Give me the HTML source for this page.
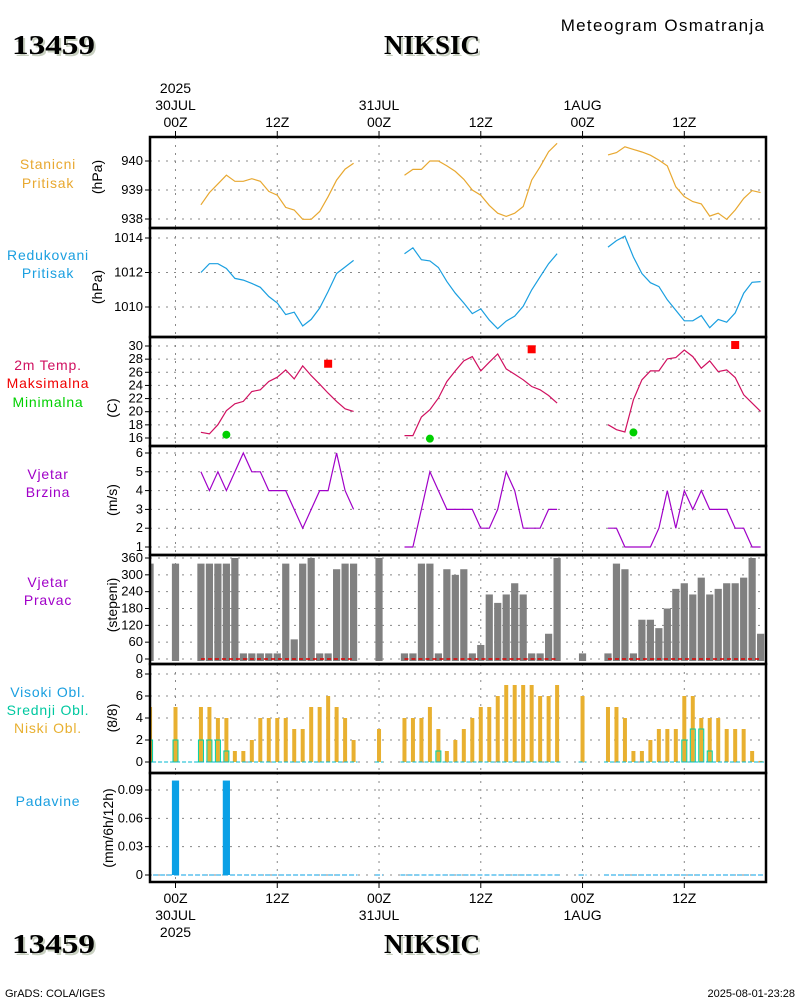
<!DOCTYPE html>
<html><head><meta charset="utf-8">
<style>
body{margin:0;background:#fff;}
svg{display:block;font-family:"Liberation Sans",sans-serif;}
.t{font-size:13px;fill:#000;}
.tl{font-size:13px;text-anchor:end;fill:#000;}
.lab{font-size:14px;text-anchor:middle;}
.big{font-family:"Liberation Serif",serif;font-weight:bold;font-size:27px;}
</style></head><body>
<svg id="c" width="800" height="1000" viewBox="0 0 800 1000">
<text x="663" y="31" font-size="17" text-anchor="middle" letter-spacing="1.3">Meteogram Osmatranja</text>
<g><text x="14" y="56" class="big" fill="#c8d0c0" textLength="83" lengthAdjust="spacingAndGlyphs">13459</text><text x="12" y="54" class="big" textLength="83" lengthAdjust="spacingAndGlyphs">13459</text></g>
<g><text x="434" y="56" class="big" text-anchor="middle" fill="#c8d0c0">NIKSIC</text><text x="432" y="54" class="big" text-anchor="middle">NIKSIC</text></g>
<g><text x="14" y="955" class="big" fill="#c8d0c0" textLength="83" lengthAdjust="spacingAndGlyphs">13459</text><text x="12" y="953" class="big" textLength="83" lengthAdjust="spacingAndGlyphs">13459</text></g>
<g><text x="434" y="955" class="big" text-anchor="middle" fill="#c8d0c0">NIKSIC</text><text x="432" y="953" class="big" text-anchor="middle">NIKSIC</text></g>
<text x="5" y="997" font-size="11">GrADS: COLA/IGES</text>
<text x="795" y="997" font-size="11" text-anchor="end">2025-08-01-23:28</text>
</svg>
<script>
const segStart=[3,27,51];
const stationP=[[938.49,938.91,939.21,939.51,939.30,939.30,939.39,939.30,938.95,938.82,938.40,938.31,937.99,937.99,938.26,938.77,939.34,939.72,939.92],
[939.51,939.71,939.71,940.0,940.0,939.83,939.64,939.37,939.0,938.82,938.47,938.2,938.09,938.2,938.43,939.34,939.8,940.32,940.61],
[940.21,940.29,940.49,940.40,940.31,940.2,940.03,939.83,939.11,938.77,938.6,938.52,938.1,938.2,937.99,938.31,938.71,938.98,938.91]];
const redP=[[1012.0,1012.51,1012.51,1012.23,1011.66,1011.56,1011.37,1011.14,1010.61,1010.23,1009.56,1009.7,1008.9,1009.28,1009.94,1010.9,1011.94,1012.32,1012.7],
[1013.09,1013.43,1012.74,1012.67,1012.29,1011.47,1010.8,1010.23,1009.62,1009.89,1009.24,1008.74,1009.18,1009.47,1010.04,1010.99,1011.75,1012.51,1013.09],
[1013.47,1013.85,1014.11,1012.9,1011.94,1011.41,1011.18,1010.42,1009.81,1009.2,1009.2,1009.5,1008.8,1009.28,1009.12,1009.66,1010.8,1011.43,1011.47]];
const temp=[[16.87,16.62,18.03,20.15,21.21,21.57,23.08,23.33,24.6,25.25,26.36,25.0,26.97,25.5,24.19,22.83,21.57,20.45,20.05],
[16.36,16.36,19.19,20.3,22.07,24.6,26.21,27.73,28.38,26.21,27.53,28.79,26.52,25.71,24.85,23.84,23.33,22.47,21.31],
[18.03,17.27,16.92,21.82,24.85,26.21,26.21,28.03,28.23,29.39,28.38,26.62,27.73,26.11,26.36,25.2,22.58,21.31,20.05]];
const maxHours=[18,42,66];
const maxTemp=[27.3,29.5,30.15];
const minHours=[6,30,54];
const minTemp=[16.5,15.9,16.85];
const wind=[[5,4,5,4,5,6,5,5,4,4,4,3,2,3,4,4,6,4,3],
[1,1,3,5,4,3,3,3,3,2,2,3,5,4,2,2,2,3,3],
[2,2,1,1,1,1,2,4,2,4,3,4,3,3,3,2,2,1,1]];
const obsHours=[-3,0,3,4,5,6,7,8,9,10,11,12,13,14,15,16,17,18,19,20,21,24,27,28,29,30,31,32,33,34,35,36,37,38,39,40,41,42,43,44,45,48,51,52,53,54,55,56,57,58,59,60,61,62,63,64,65,66,67,68,69];
const windDir=[340,340,340,340,340,340,360,20,20,20,20,20,340,70,340,360,20,20,320,340,340,360,20,20,340,340,20,320,300,320,20,50,230,200,230,270,230,20,20,90,360,20,20,340,320,20,140,140,110,180,250,270,230,290,230,250,270,270,290,360,90];
const lowCloud=[5,5,5,5,4,4,1,1,2,4,4,4,4,3,3,5,5,6,5,4,2,3,4,4,4,5,3,1,2,3,4,5,5,6,7,7,7,7,6,6,7,6,5,5,4,1,1,2,3,3,3,6,6,4,4,4,3,3,3,1,0.1];
const midCloud=[2,2,2,2,2,1,0,0,0,0,0,0,0,0,0,0,0,0,0,0,0,0,0,0,0,0,1,0,0,0,0,0,0,0,0,0,0,0,0,0,0,0,0,0,0,0,0,0,0,0,0,2,3,3,1,0,0,0,0,0,0];
const precipHours=[0,6];
const precipVals=[0.1,0.1];
const precipRanges=[[-3,21],[24,24],[27,45],[48,48],[51,69]];
const ticksSP=[938,939,940],ticksRP=[1010,1012,1014],ticksT=[16,18,20,22,24,26,28,30],ticksW=[1,2,3,4,5,6],ticksD=[0,60,120,180,240,300,360],ticksC=[0,2,4,6,8],ticksPr=[0,0.03,0.06,0.09];
const tickLabPr=["0","0.03","0.06","0.09"];

const NS="http://www.w3.org/2000/svg",svg=document.getElementById('c');
const X0=150,X1=766;
const x=h=>175.5+8.48*h;
function el(t,a,p){const e=document.createElementNS(NS,t);for(const k in a)e.setAttribute(k,a[k]);(p||svg).appendChild(e);return e;}
function lin(d0,d1,p0,p1){return v=>p0+(v-d0)*(p1-p0)/(d1-d0);}
const panels=[
 {top:137,bot:228,y:lin(938,940,219,161),ticks:ticksSP,name:'station-pressure'},
 {top:228,bot:337,y:lin(1010,1014,307,238),ticks:ticksRP,name:'reduced-pressure'},
 {top:337,bot:446,y:lin(16,30,438,346),ticks:ticksT,name:'temperature'},
 {top:446,bot:555,y:lin(1,6,547,453),ticks:ticksW,name:'wind-speed'},
 {top:555,bot:664,y:lin(0,360,659,558),ticks:ticksD,name:'wind-direction'},
 {top:664,bot:773,y:lin(0,8,762,674),ticks:ticksC,name:'cloud-cover'},
 {top:773,bot:882,y:lin(0,0.09,875,790),ticks:ticksPr,labels:tickLabPr,name:'precipitation'}];
const defs=el('defs',{});
panels.forEach((p,i)=>{
 const g=el('g',{});
 
 
 p.g=g;
 const cp=el('clipPath',{id:'cp'+i},defs);el('rect',{x:X0,y:p.top,width:X1-X0,height:p.bot-p.top},cp);
 p.ticks.forEach((t,j)=>{
  const yy=p.y(t);
  const gl=el('line',{x1:X0,x2:X1,y1:yy,y2:yy,stroke:'#888','stroke-dasharray':'2,6'},g);
  
  
  el('line',{x1:X0-5,x2:X0,y1:yy,y2:yy,stroke:'#000'},g);
  const tx=el('text',{x:X0-7,y:yy+4,class:'tl'},g);
  
  
  tx.textContent=p.labels?p.labels[j]:t;
 });
 for(let h=0;h<=60;h+=12){el('line',{x1:x(h),x2:x(h),y1:p.top,y2:p.bot,stroke:'#888','stroke-dasharray':'2,6'},g);}
 p.c=el('g',{'clip-path':'url(#cp'+i+')'},g);
});
function lines(p,arr,col,nm){arr.forEach((s,k)=>{const pts=s.map((v,j)=>x(segStart[k]+j).toFixed(1)+','+p.y(v).toFixed(1)).join(' ');
 const l=el('polyline',{points:pts,fill:'none',stroke:col,'stroke-width':1.2},p.c);
 
 });}
lines(panels[0],stationP,'#e8a830','station-pressure');
lines(panels[1],redP,'#1a9fe0','reduced-pressure');
lines(panels[2],temp,'#d01060','temperature');
lines(panels[3],wind,'#a000c8','wind-speed');
maxHours.forEach((h,i)=>{const r=el('rect',{x:x(h)-4,y:panels[2].y(maxTemp[i])-4,width:8,height:8,fill:'#f00'},panels[2].c);
 
 });
minHours.forEach((h,i)=>{const r=el('circle',{cx:x(h),cy:panels[2].y(minTemp[i]),r:4,fill:'#00d000'},panels[2].c);
 
 });
const pd=panels[4],pc=panels[5],pp=panels[6];
obsHours.forEach((h,i)=>{
 const r=el('rect',{x:x(h)-3.6,y:pd.y(windDir[i]),width:7.2,height:pd.y(0)+2-pd.y(windDir[i]),fill:'#808080'},pd.c);
 
 
 const c=el('rect',{x:x(h)-2,y:pc.y(lowCloud[i]),width:4,height:pc.y(0)-pc.y(lowCloud[i]),fill:'#e8b030'},pc.c);
 
 
 if(midCloud[i]>0){const m=el('rect',{x:x(h)-2.5,y:pc.y(midCloud[i]),width:5,height:pc.y(0)-pc.y(midCloud[i]),fill:'none',stroke:'#00d0a0','stroke-width':1},pc.c);
 
 }
});
precipRanges.forEach(r=>{
 el('line',{x1:x(r[0])-4,x2:x(r[1])+4,y1:pc.y(0),y2:pc.y(0),stroke:'#00b8d0','stroke-dasharray':'4,2'},pc.c);
 el('line',{x1:x(r[0])-4,x2:x(r[1])+4,y1:pp.y(0),y2:pp.y(0),stroke:'#0aa0e6','stroke-dasharray':'5,2'},pp.c);
});
[[3,21],[27,45],[51,69]].forEach(r=>el('line',{x1:x(r[0]),x2:x(r[1]),y1:pd.y(0),y2:pd.y(0),stroke:'#e00000','stroke-dasharray':'4,3','stroke-width':1.5},pd.c));
precipHours.forEach((h,i)=>{const r=el('rect',{x:x(h)-3.6,y:pp.y(precipVals[i]),width:7.2,height:pp.y(0)-pp.y(precipVals[i]),fill:'#0aa0e6'},pp.c);
 
 });
panels.forEach(p=>{el('rect',{x:X0,y:p.top,width:X1-X0,height:p.bot-p.top,fill:'none',stroke:'#000','stroke-width':2.5},p.g);});
for(let h=0;h<=60;h+=12){el('line',{x1:x(h),x2:x(h),y1:131,y2:137,stroke:'#000'});el('line',{x1:x(h),x2:x(h),y1:882,y2:888,stroke:'#000'});}
const topLab=[[0,["2025","30JUL","00Z"]],[12,["12Z"]],[24,["31JUL","00Z"]],[36,["12Z"]],[48,["1AUG","00Z"]],[60,["12Z"]]];
topLab.forEach(([h,ls])=>{ls.forEach((s,k)=>{const t=el('text',{x:x(h),y:127-(ls.length-1-k)*17,class:'lab'});
 
 t.textContent=s;});});
const botLab=[[0,["00Z","30JUL","2025"]],[12,["12Z"]],[24,["00Z","31JUL"]],[36,["12Z"]],[48,["00Z","1AUG"]],[60,["12Z"]]];
botLab.forEach(([h,ls])=>{ls.forEach((s,k)=>{const t=el('text',{x:x(h),y:903+k*17,class:'lab'});
 
 t.textContent=s;});});
const leftLab=[["Stanicni",169,'#e8a830'],["Pritisak",188,'#e8a830'],["Redukovani",260,'#1a9fe0'],["Pritisak",278,'#1a9fe0'],
["2m Temp.",370,'#d01060'],["Maksimalna",388,'#f00000'],["Minimalna",407,'#00d000'],["Vjetar",479,'#a000c8'],["Brzina",497,'#a000c8'],
["Vjetar",587,'#a000c8'],["Pravac",605,'#a000c8'],["Visoki Obl.",697,'#1a9fe0'],["Srednji Obl.",715,'#00c8a0'],["Niski Obl.",733,'#e8b030'],["Padavine",806,'#1a9fe0']];
leftLab.forEach(([s,y,c])=>{const t=el('text',{x:48,y:y,'font-size':14,'text-anchor':'middle','letter-spacing':'0.8',fill:c});
 
 t.textContent=s;});
const units=[["(hPa)",97,177],["(hPa)",97,287],["(C)",112,408],["(m/s)",112,500],["(stepeni)",112,605],["(8/8)",112,718],["(mm/6h/12h)",108,828]];
units.forEach(([s,xx,yy])=>{const t=el('text',{x:xx+5,y:yy,'font-size':14,'text-anchor':'middle',transform:'rotate(-90 '+(xx+5)+' '+yy+')'});
 
 t.textContent=s;});
</script>
</body></html>
